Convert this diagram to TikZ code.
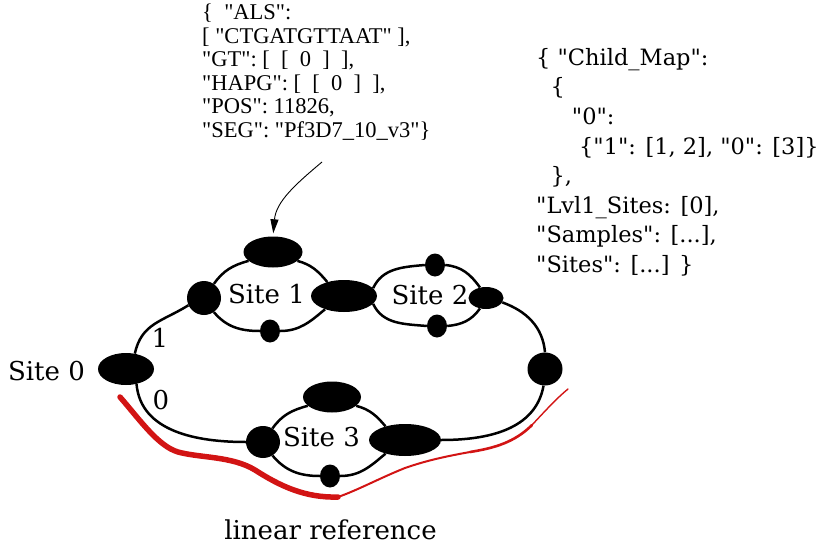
\documentclass[tikz,border=0pt]{standalone}
\usepackage{fontspec}
\setmainfont{DejaVu Serif}[Ligatures=TeXOff]
\newfontfamily\jsonfont{Liberation Serif}[Ligatures=TeXOff]
\usetikzlibrary{shapes.geometric,arrows.meta,backgrounds}
\begin{document}
\begin{tikzpicture}[x=1pt,y=-1pt,
  blob/.style={ellipse,fill=black,draw=none,inner sep=0pt},
  edge/.style={draw=black,line width=2.5pt},
  lbl/.style={inner sep=0pt,font=\fontsize{26}{30}\selectfont},
  linref/.style={draw={rgb,255:red,210;green,20;blue,20},line cap=round,line join=round}]
\useasboundingbox (0,0) rectangle (820,546);

% bubbles of the graph
\node[blob,minimum width=56pt,minimum height=32pt] (s0)  at (126,369) {};
\node[blob,minimum width=59pt,minimum height=31pt] (t1)  at (273,252) {};
\node[blob,minimum width=34pt,minimum height=34pt] (l1)  at (204,298) {};
\node[blob,minimum width=20pt,minimum height=23pt] (b1)  at (270,331) {};
\node[blob,minimum width=66pt,minimum height=32pt] (m12) at (344,296) {};
\node[blob,minimum width=20pt,minimum height=23pt] (t2)  at (435,265) {};
\node[blob,minimum width=20pt,minimum height=23pt] (b2)  at (437,326) {};
\node[blob,minimum width=35pt,minimum height=22pt] (r2)  at (486,298) {};
\node[blob,minimum width=35pt,minimum height=33pt] (rr)  at (545,369) {};
\node[blob,minimum width=58pt,minimum height=31pt] (t3)  at (332,397) {};
\node[blob,minimum width=34pt,minimum height=32pt] (l3)  at (263,442) {};
\node[blob,minimum width=20pt,minimum height=23pt] (b3)  at (330,476) {};
\node[blob,minimum width=72pt,minimum height=32pt] (r3)  at (405,440) {};

% edges between bubbles, kept behind them
\begin{scope}[on background layer]
\path[edge] (s0.60) to[out=78,in=212,looseness=1.1] (l1.205);
\path[edge] (l1.55) to[out=55,in=195] (t1.200);
\path[edge] (t1.-20) to[out=-15,in=130] (m12.140);
\path[edge] (l1.-55) to[out=-50,in=180] (b1.180);
\path[edge] (b1.0) to[out=0,in=220] (m12.215);
\path[edge] (m12.15) to[out=65,in=185] (t2.180);
\path[edge] (t2.0) to[out=-5,in=125] (r2.120);
\path[edge] (m12.-15) to[out=-65,in=175] (b2.180);
\path[edge] (b2.0) to[out=5,in=235] (r2.-120);
\path[edge] (r2.-15) to[out=-20,in=95] (rr.90);
\path[edge] (rr.-95) to[out=-100,in=0] (r3.0);
\path[edge] (s0.-55) to[out=-85,in=180] (l3.180);
\path[edge] (l3.55) to[out=55,in=195] (t3.200);
\path[edge] (t3.-20) to[out=-15,in=130] (r3.145);
\path[edge] (l3.-55) to[out=-50,in=180] (b3.180);
\path[edge] (b3.0) to[out=0,in=220] (r3.215);
\end{scope}

% labels
\node[lbl] (site0) at (46.5,371) {Site 0};
\node[lbl] (site1) at (266.5,294) {Site 1};
\node[lbl] (site2) at (430,295) {Site 2};
\node[lbl] (site3) at (321.5,437) {Site 3};
\node[lbl] (one)  at (160,338) {1};
\node[lbl] (zero) at (161,400) {0};
\node[lbl] (linref) at (330.5,530) {linear reference};

% linear reference path, tapering from left to right
\path[linref,line width=5.5pt] (120,397) .. controls (140,420) and (158,446) .. (178,452)
  .. controls (200,458) and (232,456) .. (255,470)
  .. controls (280,486) and (305,498) .. (338,497);
\path[linref,line width=2pt] (338,497) .. controls (358,490) and (380,478) .. (405,468)
  .. controls (428,460) and (448,456) .. (470,452);
\path[linref,line width=2.6pt] (470,452) .. controls (495,448) and (515,442) .. (532,425);
\path[linref,line width=1.4pt] (532,425) .. controls (546,410) and (557,398) .. (568,389);

% annotation texts
\node[inner sep=0pt,anchor=north west,align=left,
  font=\jsonfont\fontsize{22.5}{23.5}\selectfont] (vcf) at (202,4)
  {\{~~"ALS":\\ {[}~"CTGATGTTAAT"~],\\ "GT":~[~~[~~0~~]~~],\\
   "HAPG":~[~~[~~0~~]~~],\\ "POS":~11826,\\ "SEG":~"Pf3D7\_10\_v3"\}};
\node[inner sep=0pt,anchor=north west,align=left,
  font=\fontsize{22.5}{29.6}\selectfont] (meta) at (536,48)
  {\{ "Child\_Map":\\ \ \ \{\\ \ \ \ \ \ "0":\\ \ \ \ \ \ \ \{"1": [1, 2], "0": [3]\}\\
   \ \ \},\\ "Lvl1\_Sites: [0],\\ "Samples": [...],\\ "Sites": [...] \}};

% pointer from the record to the bubble
\coordinate (ptr) at (322,162);
\draw[line width=0.9pt,-{Triangle[length=14pt,width=8pt]},shorten >=3pt]
  (ptr) to[out=-140,in=85] (t1.north);
\end{tikzpicture}
\end{document}
